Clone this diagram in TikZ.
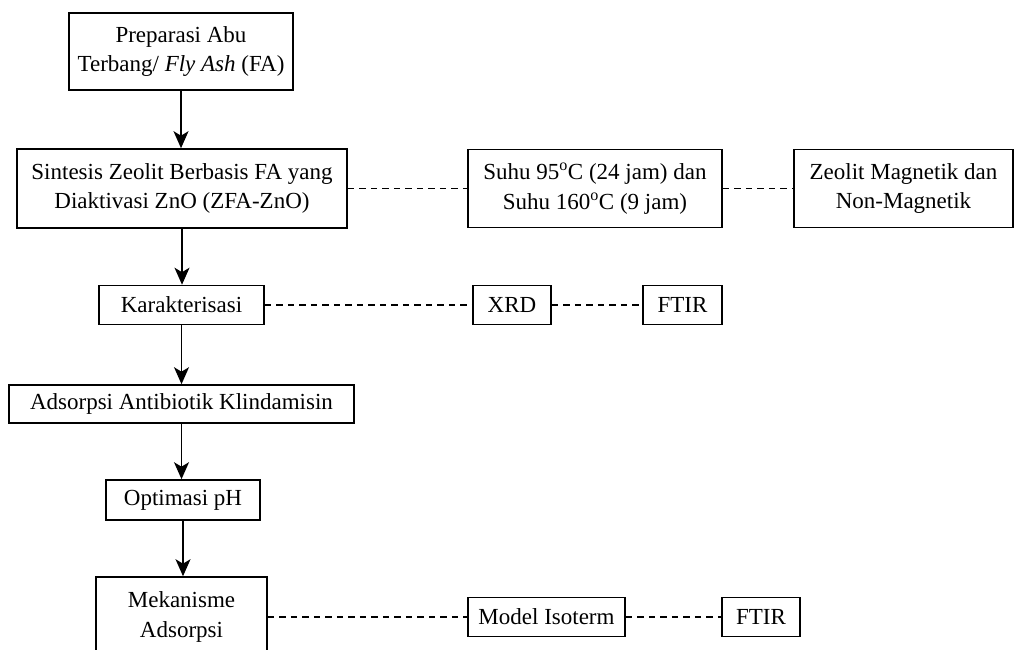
\documentclass[tikz,border=0pt]{standalone}
\usepackage{fontspec}
\setmainfont{Liberation Serif}
\usetikzlibrary{arrows.meta}
\begin{document}
\begin{tikzpicture}[x=1pt,y=-1pt,
  box/.style={draw=black,line width=1.6pt,inner sep=0pt,align=center,
    font=\fontsize{23}{29.5}\selectfont},
  flow/.style={line width=1.6pt,-{Stealth[length=17pt,width=15pt,inset=4.5pt]}},
  link/.style={line width=1.6pt,dash pattern=on 6.5pt off 5pt}]
\clip (0,0) rectangle (1014,650);
\fill[white] (0,0) rectangle (1014,650);
\node[box,minimum width=224pt,minimum height=77pt] (b1) at (181,51.5) {Preparasi Abu\\Terbang/ \textit{Fly Ash} (FA)};
\node[box,minimum width=330pt,minimum height=79pt] (b2) at (182,188.5) {Sintesis Zeolit Berbasis FA yang\\Diaktivasi ZnO (ZFA-ZnO)};
\node[box,minimum width=254pt,minimum height=78pt] (b3) at (595,188.5) {Suhu 95\textsuperscript{o}C (24 jam) dan\\Suhu 160\textsuperscript{o}C (9 jam)};
\node[box,minimum width=219pt,minimum height=78pt] (b4) at (903.5,188.5) {Zeolit Magnetik dan\\Non-Magnetik};
\node[box,minimum width=165pt,minimum height=39pt] (k) at (181.5,305) {Karakterisasi};
\node[box,minimum width=78pt,minimum height=39pt] (xrd) at (512,305) {XRD};
\node[box,minimum width=79pt,minimum height=39pt] (ftirA) at (682.5,305) {FTIR};
\node[box,minimum width=345pt,minimum height=38pt] (ads) at (181.5,404) {Adsorpsi Antibiotik Klindamisin};
\node[box,minimum width=154pt,minimum height=40pt] (opt) at (183,500) {Optimasi pH};
\node[box,minimum width=171pt,minimum height=80pt] (mek) at (181.5,617) {Mekanisme\\Adsorpsi};
\node[box,minimum width=157pt,minimum height=39pt] (mi) at (546.5,617) {Model Isoterm};
\node[box,minimum width=78pt,minimum height=39pt] (ftirB) at (761,617) {FTIR};
\draw[flow] (b1.south) -- (b1.south |- b2.north);
\draw[flow] (b2.south) -- (b2.south |- k.north);
\draw[flow] (k.south) -- (k.south |- ads.north);
\draw[flow] (ads.south) -- (ads.south |- opt.north);
\draw[flow] (opt.south) -- (opt.south |- mek.north);
\draw[link] (b2.east) -- (b3.west);
\draw[link] (b3.east) -- (b4.west);
\draw[link] (k.east) -- (xrd.west);
\draw[link] (xrd.east) -- (ftirA.west);
\draw[link] (mek.east) -- (mi.west);
\draw[link] (mi.east) -- (ftirB.west);
\end{tikzpicture}
\end{document}
